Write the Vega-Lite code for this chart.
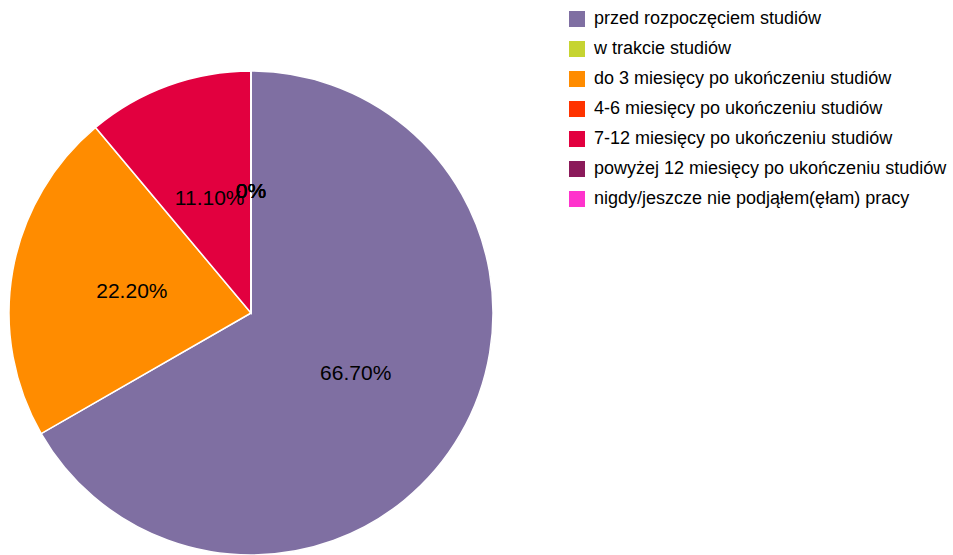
{
  "$schema": "https://vega.github.io/schema/vega-lite/v6.json",
  "width": 484,
  "height": 484,
  "autosize": {"type": "none"},
  "padding": {"left": 9, "top": 71, "right": 460, "bottom": 0},
  "background": "white",
  "config": {"view": {"stroke": null}, "font": "Liberation Sans"},
  "data": {
    "values": [
      {"category": "przed rozpoczęciem studiów", "value": 66.7, "label": "66.70%", "ord": 1},
      {"category": "w trakcie studiów", "value": 0, "label": "0%", "ord": 4},
      {"category": "do 3 miesięcy po ukończeniu studiów", "value": 22.2, "label": "22.20%", "ord": 2},
      {"category": "4-6 miesięcy po ukończeniu studiów", "value": 0, "label": "0%", "ord": 5},
      {"category": "7-12 miesięcy po ukończeniu studiów", "value": 11.1, "label": "11.10%", "ord": 3},
      {"category": "powyżej 12 miesięcy po ukończeniu studiów", "value": 0, "label": "0%", "ord": 6},
      {"category": "nigdy/jeszcze nie podjąłem(ęłam) pracy", "value": 0, "label": "0%", "ord": 7}
    ]
  },
  "encoding": {
    "theta": {"field": "value", "type": "quantitative", "stack": true},
    "order": {"field": "ord", "type": "quantitative"},
    "color": {
      "field": "category",
      "type": "nominal",
      "sort": null,
      "scale": {
        "domain": ["przed rozpoczęciem studiów", "w trakcie studiów", "do 3 miesięcy po ukończeniu studiów", "4-6 miesięcy po ukończeniu studiów", "7-12 miesięcy po ukończeniu studiów", "powyżej 12 miesięcy po ukończeniu studiów", "nigdy/jeszcze nie podjąłem(ęłam) pracy"],
        "range": ["#7f6fa2", "#c6d431", "#ff8c00", "#ff3300", "#e2003f", "#8b1a5a", "#ff33cc"]
      },
      "legend": {
        "title": null,
        "orient": "none",
        "legendX": 559,
        "legendY": -61,
        "padding": 0,
        "symbolType": "square",
        "symbolSize": 256,
        "symbolStrokeWidth": 0,
        "labelFontSize": 18,
        "labelFont": "Liberation Sans",
        "labelColor": "#000000",
        "labelOffset": 8,
        "labelLimit": 500,
        "rowPadding": 12
      }
    }
  },
  "layer": [
    {"mark": {"type": "arc", "stroke": "white", "strokeWidth": 1.5}},
    {
      "mark": {"type": "text", "radius": 121, "fontSize": 21, "font": "Liberation Sans", "color": "#000000"},
      "encoding": {"text": {"field": "label"}, "color": {"value": "#000000"}}
    }
  ]
}
